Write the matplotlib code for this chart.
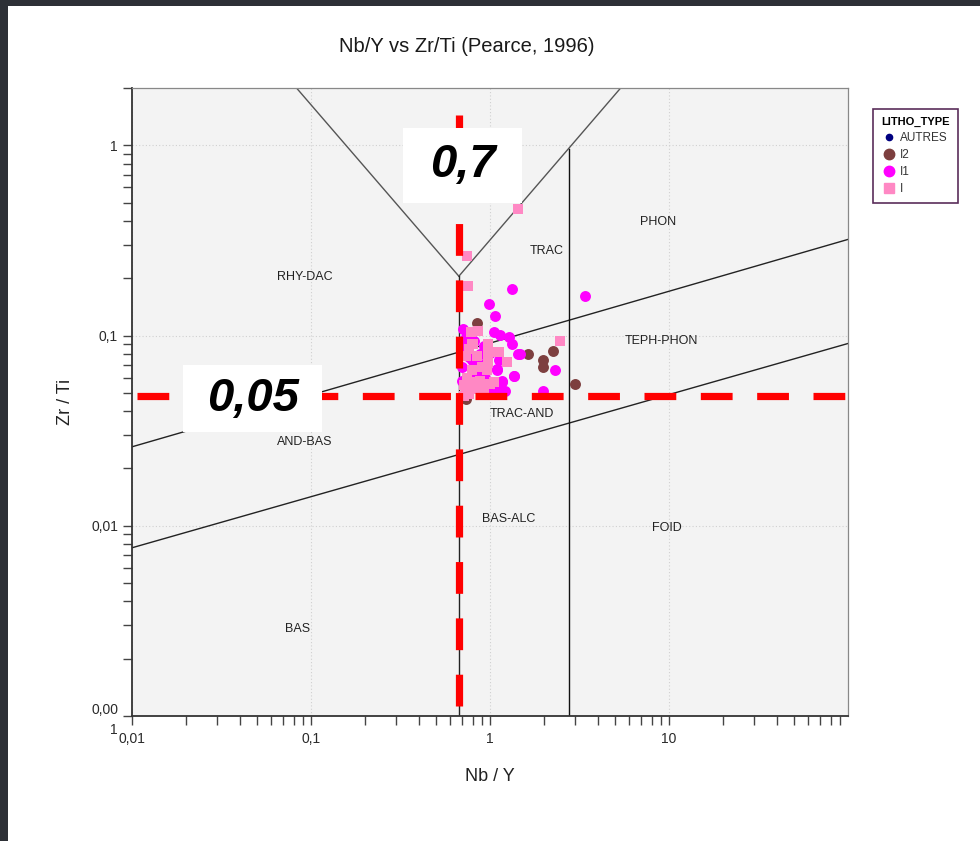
import matplotlib
matplotlib.use("Agg")
import matplotlib.pyplot as plt
from matplotlib.patches import Rectangle
from matplotlib.lines import Line2D
from matplotlib.ticker import FixedLocator, FixedFormatter, LogLocator, NullFormatter

plt.rcParams['font.family'] = ['Liberation Sans', 'DejaVu Sans']

# ---------------- data ----------------
i1_x = [1.33, 3.40, 0.99, 1.07, 0.71, 1.05, 1.14, 1.27, 1.33, 0.73, 0.88, 1.48, 0.76, 1.12,
        0.83, 1.36, 2.31, 1.17, 1.12, 1.22, 1.99, 1.09, 0.94, 0.70, 0.70, 0.72, 0.81, 0.92,
        1.00, 0.865, 0.74, 0.96, 0.778, 0.714, 1.44, 0.88, 1.09, 1.36, 0.79, 1.16, 0.94,
        1.00, 0.70, 0.79]
i1_y = [0.176, 0.161, 0.147, 0.127, 0.108, 0.104, 0.101, 0.098, 0.090, 0.098, 0.080, 0.080,
        0.077, 0.074, 0.0695, 0.0616, 0.0655, 0.058, 0.0524, 0.0514, 0.0514, 0.0655, 0.060,
        0.068, 0.058, 0.0886, 0.094, 0.0886, 0.0814, 0.0616, 0.095, 0.072, 0.090, 0.080,
        0.080, 0.071, 0.067, 0.0616, 0.064, 0.057, 0.0536, 0.0497, 0.094, 0.074]

i2_x = [0.85, 1.64, 2.26, 1.99, 1.99, 2.98, 0.73, 0.90, 0.73]
i2_y = [0.116, 0.080, 0.0829, 0.074, 0.068, 0.0556, 0.0483, 0.062, 0.0465]

i_x = [1.44, 0.745, 0.75, 2.46, 0.78, 0.86, 0.98, 0.79, 1.09, 1.24, 0.98, 0.745, 0.865,
       1.00, 0.73, 0.90, 0.96, 0.79, 0.76, 0.80, 0.92, 0.76, 0.85, 0.80, 0.73, 0.98, 1.12,
       0.98, 1.24, 0.74, 0.88, 1.05, 0.714, 0.83, 0.714]
i_y = [0.464, 0.263, 0.181, 0.094, 0.104, 0.106, 0.090, 0.090, 0.0817, 0.0724, 0.074, 0.060,
       0.0557, 0.0557, 0.0524, 0.068, 0.0655, 0.0655, 0.0495, 0.057, 0.0525, 0.085, 0.078,
       0.090, 0.0785, 0.083, 0.0817, 0.0724, 0.0724, 0.060, 0.058, 0.057, 0.0547, 0.0524,
       0.0483]

# diagram boundaries (Nb/Y, Zr/Ti)
line1_x, line1_y = [0.01, 100], [0.026, 0.32]
line2_x, line2_y = [0.01, 100], [0.00766, 0.0908]
vleft_x, vleft_y = [0.083, 0.67], [2.0, 0.205]
vright_x, vright_y = [0.67, 5.37], [0.205, 2.0]
bas_x, bas_y = [0.67, 0.67], [0.001, 0.205]
foid_x, foid_y = [2.75, 2.75], [0.001, 0.96]

region_names = ["RHY-DAC", "TRAC", "PHON", "TEPH-PHON", "TRAC-AND", "AND-BAS",
                "BAS-ALC", "FOID", "BAS"]
region_x = [0.0919, 2.07, 8.69, 9.03, 1.50, 0.0919, 1.27, 9.75, 0.084]
region_y = [0.202, 0.277, 0.393, 0.094, 0.0389, 0.0277, 0.0109, 0.00976, 0.00287]

thr_nby = 0.67
thr_zrti = 0.048

xticks = [0.01, 0.1, 1, 10]
xticklabels = ["0,01", "0,1", "1", "10"]
yticks = [0.001, 0.01, 0.1, 1]
yticklabels = ["0,00\n1", "0,01", "0,1", "1"]

# ---------------- figure ----------------
W, H = 980, 841
fig = plt.figure(figsize=(W / 100, H / 100), dpi=100)
fig.patch.set_facecolor('white')

ax = fig.add_axes([132 / W, 1 - 716 / H, (848 - 132) / W, (716 - 88) / H])
ax.set_facecolor('#f3f3f3')
ax.set_xscale('log')
ax.set_yscale('log')
ax.set_xlim(0.01, 100)
ax.set_ylim(0.001, 2)

ax.xaxis.set_major_locator(FixedLocator(xticks))
ax.xaxis.set_major_formatter(FixedFormatter(xticklabels))
ax.yaxis.set_major_locator(FixedLocator(yticks))
ax.yaxis.set_major_formatter(FixedFormatter(yticklabels))
ax.xaxis.set_minor_locator(LogLocator(base=10, subs=range(2, 10), numticks=20))
ax.yaxis.set_minor_locator(LogLocator(base=10, subs=range(2, 10), numticks=20))
ax.xaxis.set_minor_formatter(NullFormatter())
ax.yaxis.set_minor_formatter(NullFormatter())

ax.tick_params(axis='both', which='both', direction='out', length=6.5, width=1,
               color='#444444', labelcolor='#2a2a2a', labelsize=10)
ax.tick_params(axis='x', which='major', pad=5)
ax.tick_params(axis='y', which='major', pad=3.5)
for lab in ax.get_yticklabels():
    lab.set_linespacing(1.5)
    lab.set_multialignment('right')

ax.grid(True, which='major', color='#d0d0d0', linestyle=(0, (1, 2)), linewidth=0.8)
ax.set_axisbelow(True)

for s in ['left', 'bottom']:
    ax.spines[s].set_color('#333333')
    ax.spines[s].set_linewidth(1.3)
for s in ['top', 'right']:
    ax.spines[s].set_color('#888888')
    ax.spines[s].set_linewidth(0.9)

# boundaries
ax.plot(line1_x, line1_y, color='#222222', lw=1.0, zorder=2)
ax.plot(line2_x, line2_y, color='#222222', lw=1.0, zorder=2)
ax.plot(vleft_x, vleft_y, color='#555555', lw=1.0, zorder=2)
ax.plot(vright_x, vright_y, color='#555555', lw=1.0, zorder=2)
ax.plot(bas_x, bas_y, color='#222222', lw=1.0, zorder=2)
ax.plot(foid_x, foid_y, color='#111111', lw=1.0, zorder=2)

for name, x, y in zip(region_names, region_x, region_y):
    ax.text(x, y, name, fontsize=9, color='#222222', ha='center', va='center', zorder=2)

# points
ax.scatter(i2_x, i2_y, s=62, marker='o', color='#7d3f3f', linewidths=0, zorder=3)
ax.scatter(i1_x, i1_y, s=62, marker='o', color='#ff00ff', linewidths=0, zorder=3)
ax.scatter(i_x, i_y, s=50, marker='s', color='#ff88c4', linewidths=0, zorder=3)

# red threshold lines
ax.plot([thr_nby, thr_nby], [0.00113, 1.44], color='red', lw=5.2, dashes=(4.4, 3.4),
        zorder=5, solid_capstyle='butt')
ax.plot([0.0107, 100], [thr_zrti, thr_zrti], color='red', lw=5.2, dashes=(4.4, 3.4),
        zorder=5, solid_capstyle='butt', clip_on=False)

# white annotation boxes
def pbox(x0, y0, x1, y1, txt):
    ax.add_patch(Rectangle(((x0 - 132) / 716, (716 - y1) / 628), (x1 - x0) / 716, (y1 - y0) / 628,
                           transform=ax.transAxes, facecolor='white', edgecolor='none',
                           zorder=6, clip_on=False))
    ax.text(((x0 + x1) / 2 - 132) / 716, (716 - (y0 + y1) / 2) / 628, txt,
            transform=ax.transAxes, ha='center', va='center', fontsize=34,
            fontweight='bold', fontstyle='italic', color='black', zorder=7)

pbox(403, 128, 522, 203, "0,7")
pbox(183, 365, 322, 432, "0,05")

# labels
ax.set_xlabel("Nb / Y", fontsize=13, color='#222222', labelpad=16)
ax.set_ylabel("Zr / Ti", fontsize=13, color='#222222', labelpad=12)
fig.text(467 / W, 1 - 47 / H, "Nb/Y vs Zr/Ti (Pearce, 1996)", ha='center', va='center',
         fontsize=14.5, color='#1a1a1a')

# legend
handles = [
    Line2D([], [], marker='o', ls='none', color='#000080', markersize=4.5),
    Line2D([], [], marker='o', ls='none', color='#7d3f3f', markersize=7.5),
    Line2D([], [], marker='o', ls='none', color='#ff00ff', markersize=7.5),
    Line2D([], [], marker='s', ls='none', color='#ff88c4', markersize=6.5),
]
leg = fig.legend(handles, ["AUTRES", "I2", "I1", "I"], loc='upper left',
                 bbox_to_anchor=(873 / W, 1 - 109 / H), fontsize=8.5,
                 title="LITHO_TYPE", title_fontproperties={'weight': 'bold', 'size': 8},
                 frameon=True, fancybox=False, edgecolor='#5a2d5a', framealpha=1,
                 borderpad=0.7, labelspacing=0.42, handletextpad=0.25, handlelength=1.3,
                 borderaxespad=0, alignment='left')
leg.get_frame().set_linewidth(1.2)
for t in leg.get_texts():
    t.set_color('#333333')

# dark frame of the screenshot
fig.add_artist(Rectangle((0, 1 - 6 / H), 1, 6 / H, transform=fig.transFigure,
                         facecolor='#2d3036', edgecolor='none', zorder=10))
fig.add_artist(Rectangle((0, 0), 8 / W, 1, transform=fig.transFigure,
                         facecolor='#2d3036', edgecolor='none', zorder=10))

fig.savefig("out.png", dpi=100)
